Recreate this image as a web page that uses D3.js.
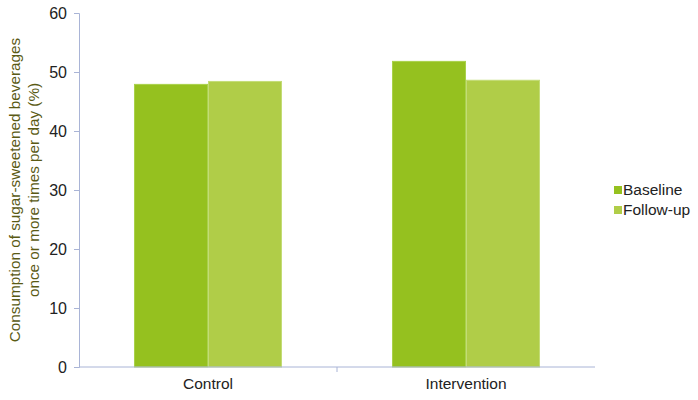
<!DOCTYPE html>
<html>
<head>
<meta charset="utf-8">
<script src="https://cdn.jsdelivr.net/npm/d3@7"></script>
<style>
  body { margin: 0; background: #fff; }
  text { font-family: "Liberation Sans", Arial, sans-serif; }
</style>
</head>
<body>
<svg id="chart"></svg>
<script>
const categories = ['Control', 'Intervention'];
const seriesNames = ['Baseline', 'Follow-up'];
const baseline = [47.9, 51.8];
const followUp = [48.4, 48.6];
const yTicks = [0, 10, 20, 30, 40, 50, 60];

const width = 698, height = 400;
const margin = {top: 13, right: 103, bottom: 33, left: 79};
const colors = ['#95c11f', '#b0cd48'];
const axisColor = '#a9b4d6';

const svg = d3.select('#chart').attr('width', width).attr('height', height);

const x0 = d3.scaleBand()
  .domain(categories)
  .range([margin.left, width - margin.right])
  .padding(0);

const x1 = d3.scaleBand()
  .domain(seriesNames)
  .range([0, x0.bandwidth()])
  .paddingInner(0)
  .paddingOuter(0.743);

const y = d3.scaleLinear().domain([0, 60]).range([height - margin.bottom, margin.top]);

const rows = categories.map((c, i) => ({cat: c, values: [baseline[i], followUp[i]]}));

// bars
const groups = svg.append('g').selectAll('g')
  .data(rows)
  .join('g')
  .attr('transform', d => `translate(${x0(d.cat)},0)`);

groups.selectAll('rect')
  .data(d => d.values.map((v, j) => ({key: seriesNames[j], value: v, j})))
  .join('rect')
  .attr('x', d => x1(d.key) + 0.5)
  .attr('y', d => y(d.value))
  .attr('width', x1.bandwidth() - 1)
  .attr('height', d => y(0) - y(d.value))
  .attr('fill', d => colors[d.j])
  .attr('stroke', d => d.j === 0 ? '#a9d14a' : '#c3dc76')
  .attr('stroke-width', 1);

// y axis
const yAxis = svg.append('g')
  .attr('transform', `translate(${margin.left},0)`)
  .call(d3.axisLeft(y).tickValues(yTicks).tickSize(5).tickPadding(7));
yAxis.select('.domain').attr('stroke', axisColor);
yAxis.selectAll('.tick line').attr('stroke', axisColor);
yAxis.selectAll('.tick text').attr('fill', '#222').style('font-size', '16px');

// x axis
const xAxis = svg.append('g')
  .attr('transform', `translate(0,${y(0)})`)
  .call(d3.axisBottom(x0).tickSize(0).tickPadding(11));
xAxis.select('.domain').attr('stroke', axisColor).attr('d', `M${margin.left},0H${width - margin.right}`);
xAxis.selectAll('.tick text').attr('fill', '#222').style('font-size', '15.5px');
// category separators
xAxis.selectAll('.sep')
  .data(categories.slice(1))
  .join('line')
  .attr('x1', d => x0(d)).attr('x2', d => x0(d))
  .attr('y1', 0).attr('y2', 5)
  .attr('stroke', axisColor);

// y title
const midY = (margin.top + height - margin.bottom) / 2;
const title = svg.append('text')
  .attr('transform', `translate(20,${midY}) rotate(-90)`)
  .attr('text-anchor', 'middle')
  .attr('fill', '#5a5a14')
  .style('font-size', '15.3px');
title.append('tspan').attr('x', 0).attr('dy', 0).text('Consumption of sugar-sweetened beverages');
title.append('tspan').attr('x', 0).attr('dy', 19).text('once or more times per day (%)');

// legend
const legend = svg.append('g').attr('transform', 'translate(614,181)');
const item = legend.selectAll('g')
  .data(seriesNames)
  .join('g')
  .attr('transform', (d, i) => `translate(0,${i * 20})`);
item.append('rect')
  .attr('y', 5).attr('width', 8).attr('height', 8)
  .attr('fill', (d, i) => colors[i]);
item.append('text')
  .attr('x', 9).attr('y', 14)
  .attr('fill', '#222')
  .style('font-size', '15.5px')
  .text(d => d);
</script>
</body>
</html>
